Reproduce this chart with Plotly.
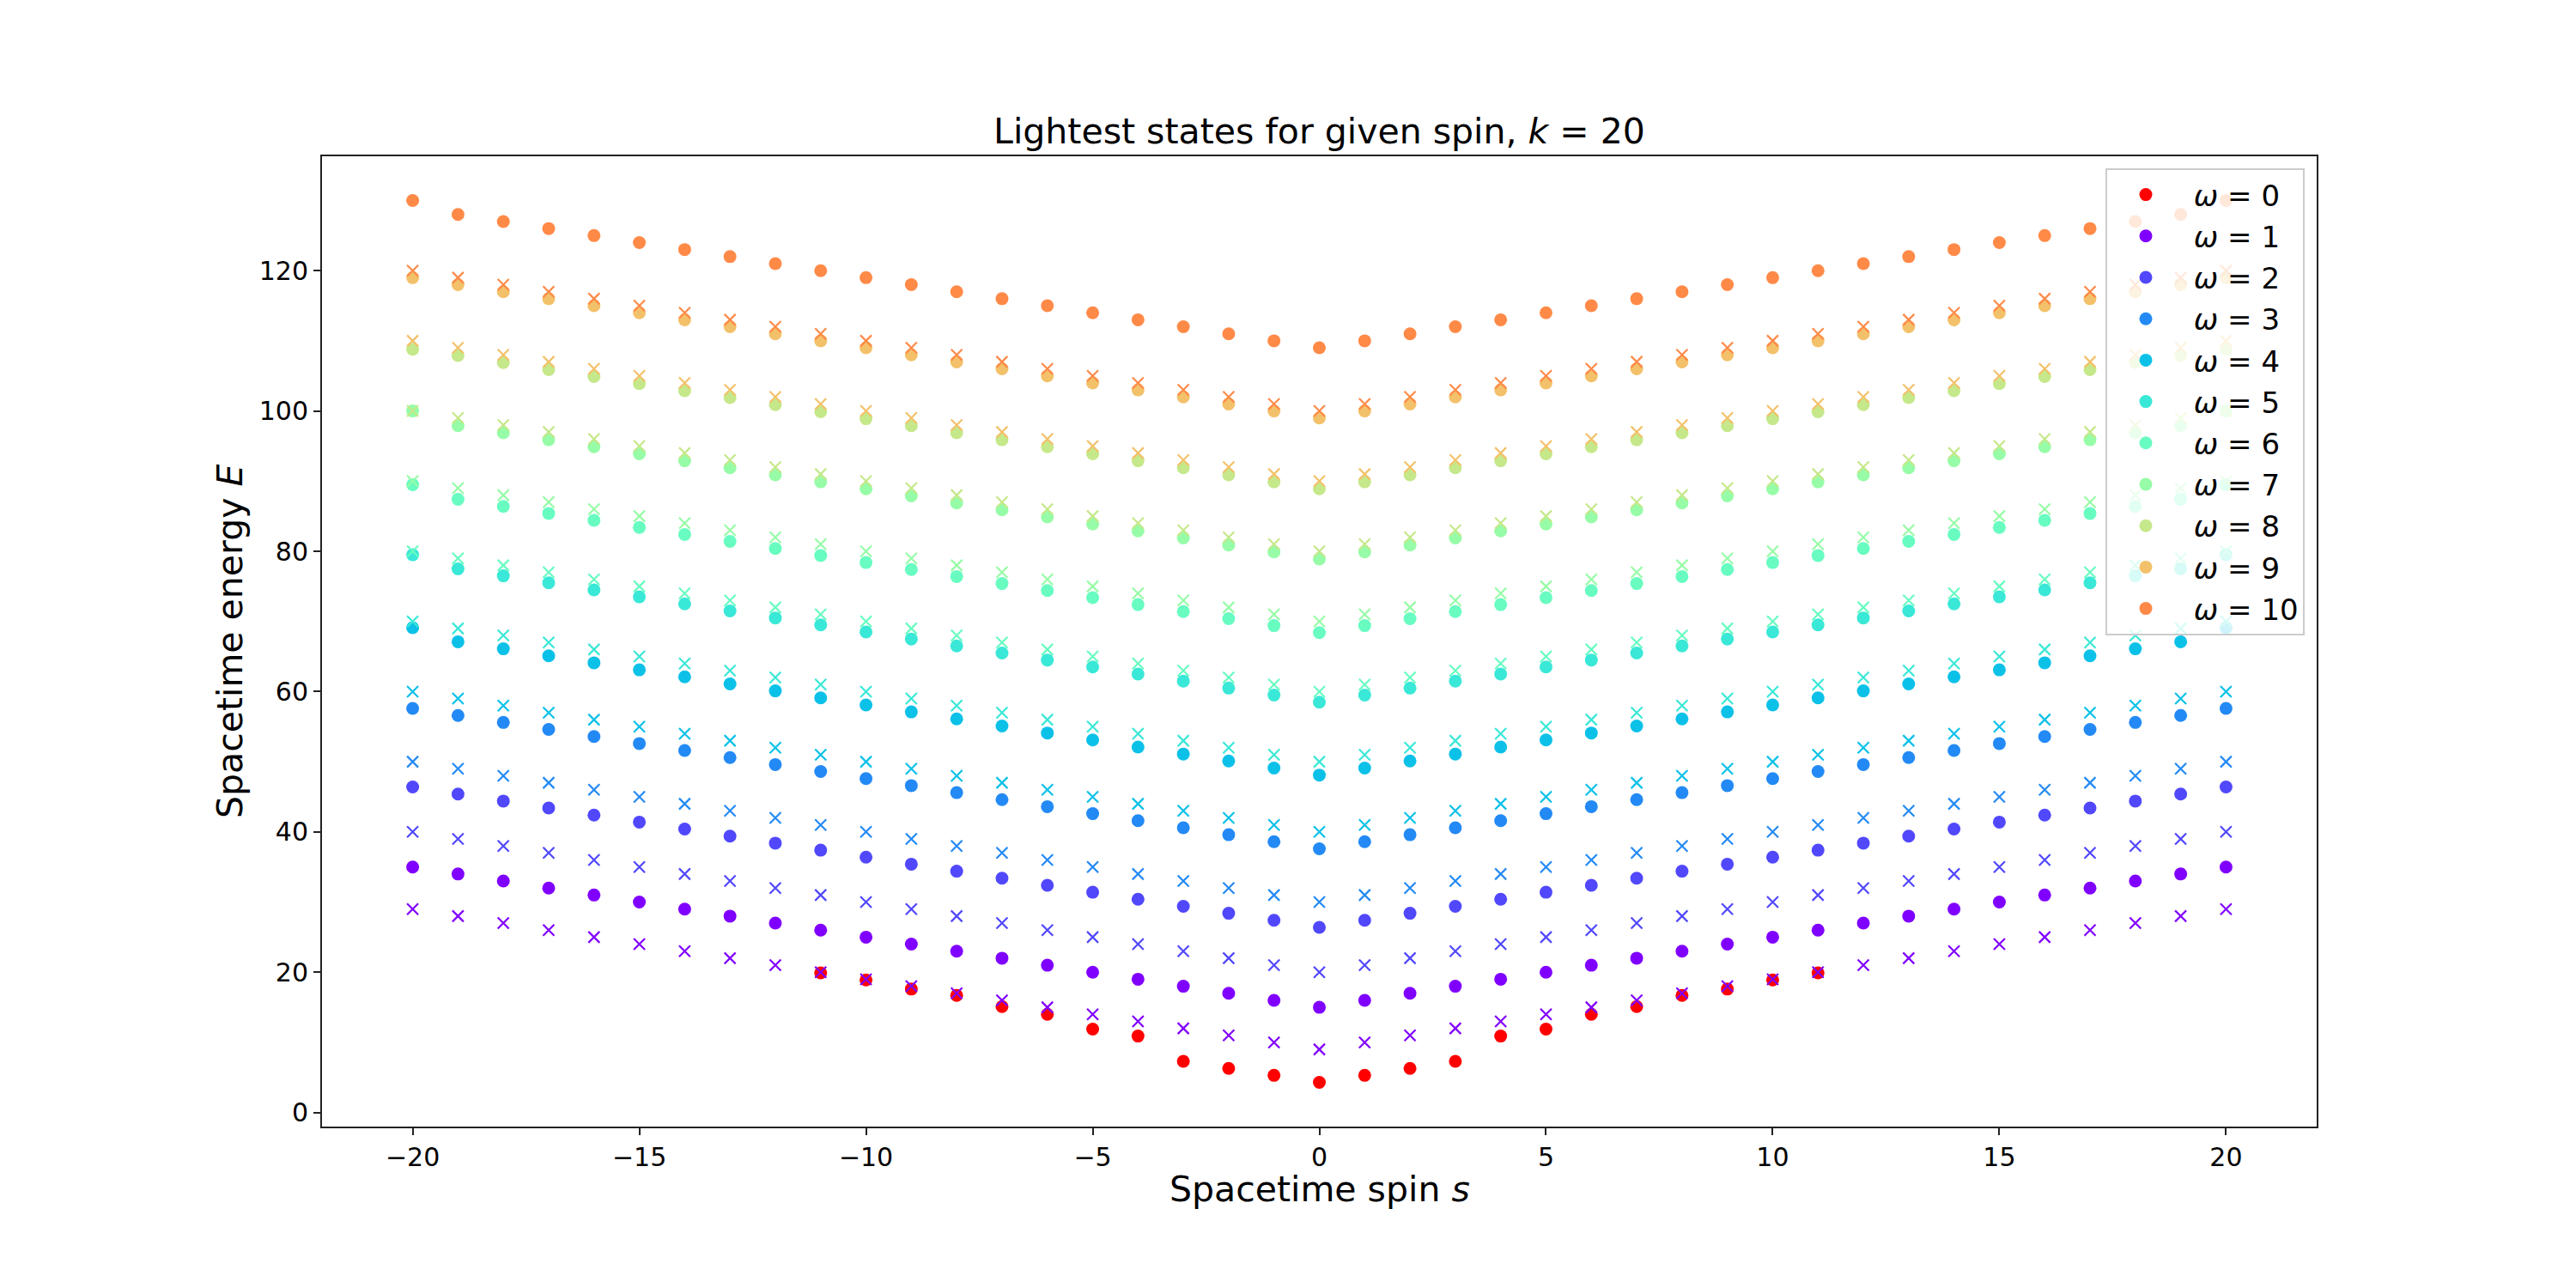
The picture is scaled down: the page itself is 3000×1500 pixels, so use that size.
import plotly.graph_objects as go

# ---------------- data ----------------
spins = list(range(-20, 21))
spins_w0 = list(range(-11, 12))

omega_labels = ["ω = 0", "ω = 1", "ω = 2", "ω = 3", "ω = 4", "ω = 5",
                "ω = 6", "ω = 7", "ω = 8", "ω = 9", "ω = 10"]

# lightest states (dots)
E_w0 = [19.9, 18.9, 17.6, 16.7, 15.1, 14.0, 11.9, 10.9, 7.3, 6.3, 5.3, 4.3,
        5.3, 6.3, 7.3, 10.9, 11.9, 14.0, 15.1, 16.7, 17.6, 18.9, 19.9]
E_w1 = [35, 34, 33, 32, 31, 30, 29, 28, 27, 26, 25, 24, 23, 22, 21, 20, 19, 18, 17, 16, 15,
        16, 17, 18, 19, 20, 21, 22, 23, 24, 25, 26, 27, 28, 29, 30, 31, 32, 33, 34, 35]
E_w2 = [46.4, 45.4, 44.4, 43.4, 42.4, 41.4, 40.4, 39.4, 38.4, 37.4, 36.4, 35.4, 34.4, 33.4,
        32.4, 31.4, 30.4, 29.4, 28.4, 27.4, 26.4, 27.4, 28.4, 29.4, 30.4, 31.4, 32.4, 33.4,
        34.4, 35.4, 36.4, 37.4, 38.4, 39.4, 40.4, 41.4, 42.4, 43.4, 44.4, 45.4, 46.4]
E_w3 = [57.6, 56.6, 55.6, 54.6, 53.6, 52.6, 51.6, 50.6, 49.6, 48.6, 47.6, 46.6, 45.6, 44.6,
        43.6, 42.6, 41.6, 40.6, 39.6, 38.6, 37.6, 38.6, 39.6, 40.6, 41.6, 42.6, 43.6, 44.6,
        45.6, 46.6, 47.6, 48.6, 49.6, 50.6, 51.6, 52.6, 53.6, 54.6, 55.6, 56.6, 57.6]
E_w4 = [69.1, 67.1, 66.1, 65.1, 64.1, 63.1, 62.1, 61.1, 60.1, 59.1, 58.1, 57.1, 56.1, 55.1,
        54.1, 53.1, 52.1, 51.1, 50.1, 49.1, 48.1, 49.1, 50.1, 51.1, 52.1, 53.1, 54.1, 55.1,
        56.1, 57.1, 58.1, 59.1, 60.1, 61.1, 62.1, 63.1, 64.1, 65.1, 66.1, 67.1, 69.1]
E_w5 = [79.5, 77.5, 76.5, 75.5, 74.5, 73.5, 72.5, 71.5, 70.5, 69.5, 68.5, 67.5, 66.5, 65.5,
        64.5, 63.5, 62.5, 61.5, 60.5, 59.5, 58.5, 59.5, 60.5, 61.5, 62.5, 63.5, 64.5, 65.5,
        66.5, 67.5, 68.5, 69.5, 70.5, 71.5, 72.5, 73.5, 74.5, 75.5, 76.5, 77.5, 79.5]
E_w6 = [89.5, 87.4, 86.4, 85.4, 84.4, 83.4, 82.4, 81.4, 80.4, 79.4, 78.4, 77.4, 76.4, 75.4,
        74.4, 73.4, 72.4, 71.4, 70.4, 69.4, 68.4, 69.4, 70.4, 71.4, 72.4, 73.4, 74.4, 75.4,
        76.4, 77.4, 78.4, 79.4, 80.4, 81.4, 82.4, 83.4, 84.4, 85.4, 86.4, 87.4, 89.5]
E_w7 = [100.0, 97.9, 96.9, 95.9, 94.9, 93.9, 92.9, 91.9, 90.9, 89.9, 88.9, 87.9, 86.9, 85.9,
        84.9, 83.9, 82.9, 81.9, 80.9, 79.9, 78.9, 79.9, 80.9, 81.9, 82.9, 83.9, 84.9, 85.9,
        86.9, 87.9, 88.9, 89.9, 90.9, 91.9, 92.9, 93.9, 94.9, 95.9, 96.9, 97.9, 100.0]
E_w8 = [108.8, 107.9, 106.9, 105.9, 104.9, 103.9, 102.9, 101.9, 100.9, 99.9, 98.9, 97.9, 96.9,
        95.9, 94.9, 93.9, 92.9, 91.9, 90.9, 89.9, 88.9, 89.9, 90.9, 91.9, 92.9, 93.9, 94.9,
        95.9, 96.9, 97.9, 98.9, 99.9, 100.9, 101.9, 102.9, 103.9, 104.9, 105.9, 106.9, 107.9, 108.8]
E_w9 = [119, 118, 117, 116, 115, 114, 113, 112, 111, 110, 109, 108, 107, 106, 105, 104, 103,
        102, 101, 100, 99, 100, 101, 102, 103, 104, 105, 106, 107, 108, 109, 110, 111, 112, 113,
        114, 115, 116, 117, 118, 119]
E_w10 = [130, 128, 127, 126, 125, 124, 123, 122, 121, 120, 119, 118, 117, 116, 115, 114, 113,
         112, 111, 110, 109, 110, 111, 112, 113, 114, 115, 116, 117, 118, 119, 120, 121, 122,
         123, 124, 125, 126, 127, 128, 130]

# crosses (one series per omega >= 1)
X_w1 = [29, 28, 27, 26, 25, 24, 23, 22, 21, 20, 19, 18, 17, 16, 15, 14, 13, 12, 11, 10, 9,
        10, 11, 12, 13, 14, 15, 16, 17, 18, 19, 20, 21, 22, 23, 24, 25, 26, 27, 28, 29]
X_w2 = [40, 39, 38, 37, 36, 35, 34, 33, 32, 31, 30, 29, 28, 27, 26, 25, 24, 23, 22, 21, 20,
        21, 22, 23, 24, 25, 26, 27, 28, 29, 30, 31, 32, 33, 34, 35, 36, 37, 38, 39, 40]
X_w3 = [50, 49, 48, 47, 46, 45, 44, 43, 42, 41, 40, 39, 38, 37, 36, 35, 34, 33, 32, 31, 30,
        31, 32, 33, 34, 35, 36, 37, 38, 39, 40, 41, 42, 43, 44, 45, 46, 47, 48, 49, 50]
X_w4 = [60, 59, 58, 57, 56, 55, 54, 53, 52, 51, 50, 49, 48, 47, 46, 45, 44, 43, 42, 41, 40,
        41, 42, 43, 44, 45, 46, 47, 48, 49, 50, 51, 52, 53, 54, 55, 56, 57, 58, 59, 60]
X_w5 = [70, 69, 68, 67, 66, 65, 64, 63, 62, 61, 60, 59, 58, 57, 56, 55, 54, 53, 52, 51, 50,
        51, 52, 53, 54, 55, 56, 57, 58, 59, 60, 61, 62, 63, 64, 65, 66, 67, 68, 69, 70]
X_w6 = [80, 79, 78, 77, 76, 75, 74, 73, 72, 71, 70, 69, 68, 67, 66, 65, 64, 63, 62, 61, 60,
        61, 62, 63, 64, 65, 66, 67, 68, 69, 70, 71, 72, 73, 74, 75, 76, 77, 78, 79, 80]
X_w7 = [90, 89, 88, 87, 86, 85, 84, 83, 82, 81, 80, 79, 78, 77, 76, 75, 74, 73, 72, 71, 70,
        71, 72, 73, 74, 75, 76, 77, 78, 79, 80, 81, 82, 83, 84, 85, 86, 87, 88, 89, 90]
X_w8 = [100, 99, 98, 97, 96, 95, 94, 93, 92, 91, 90, 89, 88, 87, 86, 85, 84, 83, 82, 81, 80,
        81, 82, 83, 84, 85, 86, 87, 88, 89, 90, 91, 92, 93, 94, 95, 96, 97, 98, 99, 100]
X_w9 = [110, 109, 108, 107, 106, 105, 104, 103, 102, 101, 100, 99, 98, 97, 96, 95, 94, 93,
        92, 91, 90, 91, 92, 93, 94, 95, 96, 97, 98, 99, 100, 101, 102, 103, 104, 105, 106, 107,
        108, 109, 110]
X_w10 = [120, 119, 118, 117, 116, 115, 114, 113, 112, 111, 110, 109, 108, 107, 106, 105, 104,
         103, 102, 101, 100, 101, 102, 103, 104, 105, 106, 107, 108, 109, 110, 111, 112, 113,
         114, 115, 116, 117, 118, 119, 120]

x_ticks = [-20, -15, -10, -5, 0, 5, 10, 15, 20]
y_ticks = [0, 20, 40, 60, 80, 100, 120]

# ---------------- style ----------------
colors = ["#ff0000", "#8000ff", "#5148fc", "#238af5", "#0cc1e8", "#3ae8d7",
          "#68fcc1", "#97fca7", "#c5e88a", "#f3c16a", "#ff8a48"]
FONT = "DejaVu Sans"

dots = [E_w0, E_w1, E_w2, E_w3, E_w4, E_w5, E_w6, E_w7, E_w8, E_w9, E_w10]
crosses = [None, X_w1, X_w2, X_w3, X_w4, X_w5, X_w6, X_w7, X_w8, X_w9, X_w10]

fig = go.Figure()
for w in range(11):
    xs = spins_w0 if w == 0 else spins
    lab = "\u00a0" + omega_labels[w].replace("ω", "<i>ω</i>")
    fig.add_trace(go.Scatter(
        x=xs, y=dots[w], mode="markers", name=lab, legendgroup=f"w{w}",
        marker=dict(symbol="circle", size=15, color=colors[w], line=dict(width=0)),
    ))
    if crosses[w] is not None:
        fig.add_trace(go.Scatter(
            x=spins, y=crosses[w], mode="markers", showlegend=False, legendgroup=f"w{w}",
            marker=dict(symbol="x-thin", size=13, color=colors[w],
                        line=dict(width=2.2, color=colors[w])),
        ))

L, R, T, B = 375, 302, 182, 188
W, H = 3000, 1500
pw, ph = W - L - R, H - T - B

axis_common = dict(showgrid=False, zeroline=False, showline=True, mirror=True,
                   linecolor="#222222", linewidth=2, ticks="outside", ticklen=8,
                   tickwidth=1.8, tickcolor="#222222",
                   tickfont=dict(family=FONT, size=30, color="black"))

fig.update_layout(
    width=W, height=H,
    margin=dict(l=L, r=R, t=T, b=B),
    paper_bgcolor="white", plot_bgcolor="white",
    font=dict(family=FONT, color="black"),
    title=dict(text="Lightest states for given spin, <i>k</i> = 20",
               font=dict(family=FONT, size=41, color="black"),
               x=0.5, xref="paper", xanchor="center",
               y=1 - 153 / H, yref="container", yanchor="middle"),
    xaxis=dict(range=[-22, 22], tickvals=x_ticks, **axis_common),
    yaxis=dict(range=[-2.0, 136.3], tickvals=y_ticks, **axis_common),
    legend=dict(x=(2452 - L) / pw, y=(H - B - 196) / ph, xanchor="left", yanchor="top",
                bgcolor="rgba(255,255,255,0.8)", bordercolor="#cccccc", borderwidth=2,
                font=dict(family=FONT, size=34, color="black"),
                tracegroupgap=1, itemsizing="trace", itemwidth=80),
    annotations=[
        dict(text="Spacetime spin <i>s</i>", xref="paper", yref="paper",
             x=0.5, y=-(1385 - (H - B)) / ph, xanchor="center", yanchor="middle",
             showarrow=False, font=dict(family=FONT, size=41, color="black")),
        dict(text="Spacetime energy <i>E</i>", xref="paper", yref="paper",
             x=(268 - L) / pw, y=0.5, xanchor="center", yanchor="middle", textangle=-90,
             showarrow=False, font=dict(family=FONT, size=41, color="black")),
    ],
)

fig.write_html("out.html")
